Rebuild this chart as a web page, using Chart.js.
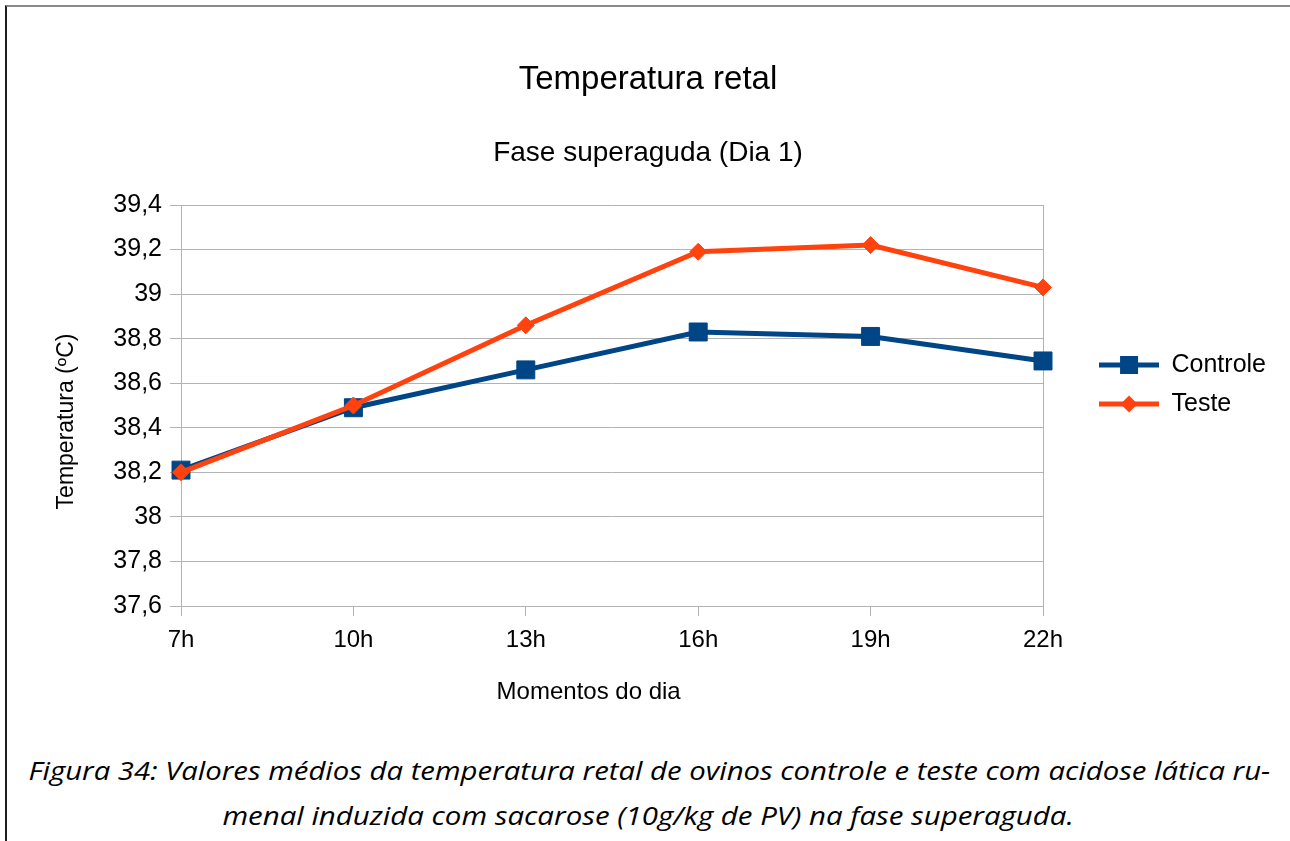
<!DOCTYPE html>
<html>
<head>
<meta charset="utf-8">
<script src="https://cdn.jsdelivr.net/npm/chart.js@4.4.0/dist/chart.umd.min.js"></script>
<style>
  html, body { margin: 0; padding: 0; background: #fff; }
  body { width: 1290px; height: 841px; position: relative; overflow: hidden; }
  #frame { position: absolute; left: 5px; top: 5px; width: 1290px; height: 840px;
           border-top: 2px solid #8a8a8a; border-left: 2px solid #1e1e1e; }
  #wrap { position: absolute; left: 8px; top: 7px; width: 1282px; height: 728px; }
  .cap { position: absolute; width: 1400px; text-align: center; white-space: nowrap;
         font-family: "Open Sans", Lato, sans-serif; font-style: italic; font-size: 26px;
         line-height: 30px; color: #000; }
  .cap span { display: inline-block; transform-origin: 50% 50%; }
</style>
</head>
<body>
<div id="frame"></div>
<div id="wrap"><canvas id="chart"></canvas></div>
<div class="cap" id="cap1" style="left:-51px; top:755px;"><span>Figura 34: Valores médios da temperatura retal de ovinos controle e teste com acidose lática ru-</span></div>
<div class="cap" id="cap2" style="left:-52px; top:800px;"><span>menal induzida com sacarose (10g/kg de PV) na fase superaguda.</span></div>

<script>
// ---- data ----
const hours = ['7h', '10h', '13h', '16h', '19h', '22h'];
const controle = [38.21, 38.49, 38.66, 38.83, 38.81, 38.70];
const teste = [38.20, 38.50, 38.86, 39.19, 39.22, 39.03];
const yTicks = [37.6, 37.8, 38.0, 38.2, 38.4, 38.6, 38.8, 39.0, 39.2, 39.4];

const BLUE = '#004586';
const ORANGE = '#ff420e';
const GRID = '#b3b3b3';

Chart.defaults.font.family = '"Liberation Sans", Arial, sans-serif';
Chart.defaults.color = '#000';

// legend symbol: line with the marker in the middle
function legendIcon(color, kind) {
    const c = document.createElement('canvas');
    c.width = 60; c.height = 26;
    const g = c.getContext('2d');
    g.strokeStyle = color;
    g.lineWidth = 5;
    g.beginPath(); g.moveTo(0, 13); g.lineTo(60, 13); g.stroke();
    g.fillStyle = color;
    if (kind === 'square') {
        g.fillRect(21, 4, 18, 18);
    } else {
        g.beginPath();
        g.moveTo(21.5, 13); g.lineTo(30, 4.5); g.lineTo(38.5, 13); g.lineTo(30, 21.5);
        g.closePath(); g.fill();
    }
    return c;
}
const icons = [legendIcon(BLUE, 'square'), legendIcon(ORANGE, 'diamond')];

new Chart(document.getElementById('chart'), {
    type: 'line',
    data: {
        labels: hours,
        datasets: [{
            label: 'Controle',
            data: controle,
            borderColor: BLUE,
            backgroundColor: BLUE,
            borderWidth: 5,
            pointStyle: 'rect',
            pointRadius: 12.7,
            pointBorderWidth: 1,
            pointBackgroundColor: BLUE,
            pointBorderColor: BLUE,
            tension: 0,
            order: 2,
        }, {
            label: 'Teste',
            data: teste,
            borderColor: ORANGE,
            backgroundColor: ORANGE,
            borderWidth: 5,
            pointStyle: 'rectRot',
            pointRadius: 8.5,
            pointBorderWidth: 1,
            pointBackgroundColor: ORANGE,
            pointBorderColor: ORANGE,
            tension: 0,
            order: 1,
        }],
    },
    options: {
        responsive: true, maintainAspectRatio: false,
        animation: false,
        events: [],
        layout: { padding: { left: 12, right: 14, top: 45.6, bottom: 18.6 } },
        plugins: {
            title: {
                display: true, text: 'Temperatura retal', color: '#000',
                font: { size: 33, weight: 'normal' },
                padding: { top: 7.6, bottom: 37 },
            },
            subtitle: {
                display: true, text: 'Fase superaguda (Dia 1)', color: '#000',
                font: { size: 28, weight: 'normal' },
                padding: { top: 0, bottom: 34.6 },
            },
            legend: {
                position: 'right',
                align: 'center',
                labels: {
                    usePointStyle: true,
                    pointStyleWidth: 60,
                    padding: 14,
                    color: '#000',
                    font: { size: 25 },
                    generateLabels: chart => chart.data.datasets.map((ds, i) => ({
                        text: ds.label,
                        datasetIndex: i,
                        pointStyle: icons[i],
                        fillStyle: ds.borderColor,
                        strokeStyle: ds.borderColor,
                        lineWidth: 0,
                        hidden: false,
                        fontColor: '#000',
                    })),
                },
            },
            tooltip: { enabled: false },
        },
        scales: {
            x: {
                offset: false,
                grid: {
                    color: ctx => ctx.index === hours.length - 1 ? GRID : 'rgba(0,0,0,0)',
                    tickColor: GRID,
                    tickLength: 10,
                },
                border: { color: GRID },
                ticks: { color: '#000', font: { size: 24 }, padding: 10, maxRotation: 0, autoSkip: false },
                title: {
                    display: true, text: 'Momentos do dia       ', color: '#000',
                    font: { size: 24 }, padding: { top: 0, bottom: 10 },
                },
                afterFit: s => { s.height = 110.4; },
            },
            y: {
                min: 37.6, max: 39.4,
                afterBuildTicks: s => { s.ticks = yTicks.map(v => ({ value: v })); },
                grid: { color: GRID, tickLength: 11 },
                border: { color: GRID },
                ticks: {
                    color: '#000', font: { size: 25 }, padding: 8,
                    callback: v => String(Math.round(v * 10) / 10).replace('.', ','),
                },
                title: {
                    display: true, text: 'Temperatura (ºC)     ', color: '#000',
                    font: { size: 23 }, padding: { top: 33.1, bottom: 0 },
                },
                afterFit: s => { s.width = 161; },
            },
            // empty axis, only keeps the gap between plot and legend
            gap: {
                type: 'linear', position: 'right', display: true,
                grid: { display: false }, border: { display: false },
                ticks: { display: false },
                afterFit: s => { s.width = 42; },
            },
        },
    },
});

// squeeze caption lines to the original line widths
function fitCaption() {
    [['cap1', 1242], ['cap2', 851]].forEach(([id, w]) => {
        const s = document.querySelector('#' + id + ' span');
        s.style.transform = 'scaleX(' + (w / s.offsetWidth) + ')';
    });
}
fitCaption();
if (document.fonts) document.fonts.ready.then(fitCaption);
</script>
</body>
</html>
